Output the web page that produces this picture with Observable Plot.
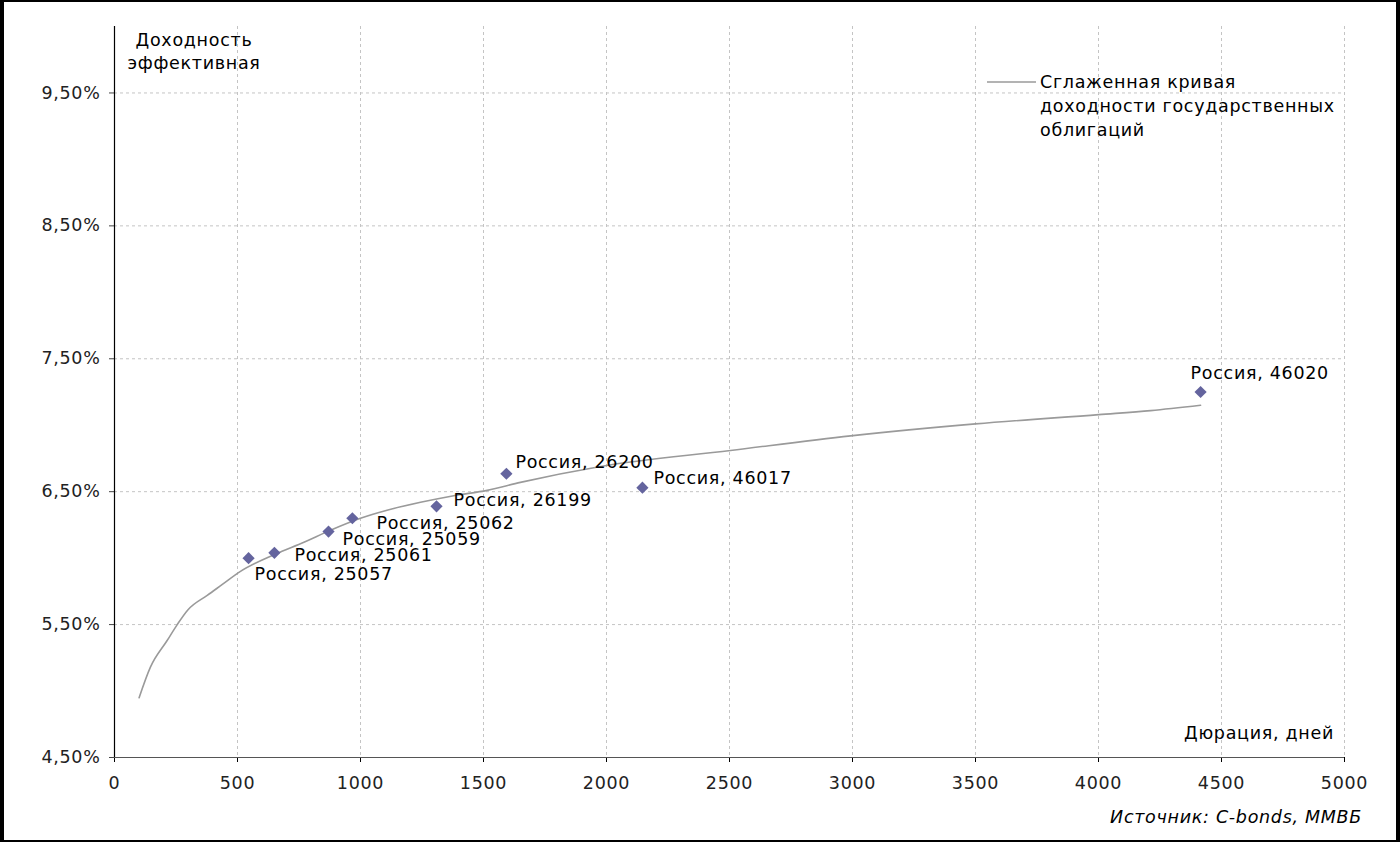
<!DOCTYPE html>
<html>
<head>
<meta charset="utf-8">
<script src="https://cdn.jsdelivr.net/npm/d3@7"></script>
<script src="https://cdn.jsdelivr.net/npm/@observablehq/plot@0.6"></script>
<style>
  html, body { margin: 0; padding: 0; background: #fff; }
  #wrap { position: relative; width: 1400px; height: 842px; overflow: hidden; }
  #frame { position: absolute; left: 0; top: 0; width: 1400px; height: 842px; box-sizing: border-box;
           border-left: 4px solid #000; border-right: 4px solid #000; border-top: 2px solid #000; border-bottom: 2px solid #000;
           pointer-events: none; }
  #chart svg text { letter-spacing: 0.7px; }
</style>
</head>
<body>
<div id="wrap"><div id="chart"></div><div id="frame"></div></div>
<script>
// ---- Data ----
const bondNames = ["Россия, 25057", "Россия, 25061", "Россия, 25059", "Россия, 25062",
                   "Россия, 26199", "Россия, 26200", "Россия, 46017", "Россия, 46020"];
const bondDuration = [545, 650, 870, 967, 1309, 1593, 2146, 4415];       // days
const bondYield    = [6.00, 6.04, 6.20, 6.30, 6.39, 6.635, 6.53, 7.25];  // %

const curveDuration = [100, 146, 214, 255, 298, 377, 437, 512, 654, 770, 878, 1000, 1108, 1244,
                       1379, 1515, 1650, 1976, 2504, 2992, 3500, 4001, 4212, 4415];
const curveYield    = [4.95, 5.18, 5.38, 5.50, 5.61, 5.72, 5.80, 5.90, 6.03, 6.12, 6.21, 6.30, 6.36, 6.42,
                       6.47, 6.51, 6.57, 6.69, 6.81, 6.92, 7.01, 7.08, 7.11, 7.15];

const xTicks = [0, 500, 1000, 1500, 2000, 2500, 3000, 3500, 4000, 4500, 5000];
const yTicks = [4.5, 5.5, 6.5, 7.5, 8.5, 9.5];

const yAxisTitle = ["Доходность", "эффективная"];
const xAxisTitle = "Дюрация, дней";
const legendLabel = ["Сглаженная кривая", "доходности государственных", "облигаций"];
const sourceText = "Источник: C-bonds, ММВБ";

// label nudges (layout only), px
const labelNudge = [[6, 16], [20, 3], [14, 8], [24, 5], [17, -6], [9, -11], [11, -9], [-10, -19]];

// ---- Build tables ----
const bonds = bondNames.map((n, i) => ({name: n, x: bondDuration[i], y: bondYield[i]}));
const curve = curveDuration.map((d, i) => ({x: d, y: curveYield[i]}));

const FONT = "DejaVu Sans, Verdana, sans-serif";
const FS = 17.5;
const fmtY = v => v.toFixed(2).replace(".", ",") + "%";
const fmtX = v => String(v);

const labelMarks = bonds.map((b, i) => Plot.text([b], {
  x: "x", y: "y", text: "name", textAnchor: "start",
  dx: labelNudge[i][0], dy: labelNudge[i][1], fill: "#000", fontSize: FS
}));

const chart = Plot.plot({
  width: 1400, height: 842,
  marginLeft: 114, marginRight: 56, marginTop: 26, marginBottom: 85,
  style: {fontFamily: FONT, fontSize: FS + "px", color: "#000", background: "transparent"},
  x: {domain: [0, 5000]},
  y: {domain: [4.5, 10]},
  marks: [
    Plot.gridX(xTicks.slice(1), {stroke: "#c4c4c4", strokeOpacity: 1, strokeDasharray: "3,3"}),
    Plot.gridY(yTicks.slice(1), {stroke: "#c4c4c4", strokeOpacity: 1, strokeDasharray: "3,3"}),
    Plot.axisX(xTicks, {tickSize: 5, tickPadding: 14, label: null, tickFormat: fmtX, stroke: "#000", fill: "#222", fontSize: FS}),
    Plot.axisY(yTicks, {tickSize: 5, tickPadding: 9, label: null, tickFormat: fmtY, stroke: "#444", fill: "#222", fontSize: FS}),
    Plot.ruleY([4.5], {stroke: "#555", strokeWidth: 1.2}),
    Plot.ruleX([0], {stroke: "#000", strokeWidth: 1.2}),
    Plot.line(curve, {x: "x", y: "y", stroke: "#9a9a9a", strokeWidth: 1.6, curve: "monotone-x"}),
    Plot.dot(bonds, {x: "x", y: "y", symbol: "diamond2", r: 5.5, fill: "#64649e", stroke: "none"}),
    ...labelMarks
  ]
});
document.getElementById("chart").appendChild(chart);

// ---- Annotations (axis titles, legend, source) ----
const svg = d3.select(chart);
const g = svg.append("g").attr("font-family", FONT).attr("font-size", FS).attr("fill", "#000");
g.selectAll("text.yt").data(yAxisTitle).join("text")
  .attr("x", 194).attr("y", (d, i) => 40 + i * 23).attr("dy", "0.35em")
  .attr("text-anchor", "middle").text(d => d);
g.append("text").attr("x", 1334).attr("y", 733).attr("dy", "0.35em")
  .attr("text-anchor", "end").text(xAxisTitle);
g.append("text").attr("x", 1362).attr("y", 817).attr("dy", "0.35em")
  .attr("text-anchor", "end").attr("font-style", "italic").text(sourceText);
// legend
g.append("line").attr("x1", 987).attr("x2", 1036).attr("y1", 82).attr("y2", 82)
  .attr("stroke", "#9a9a9a").attr("stroke-width", 1.6);
g.selectAll("text.lg").data(legendLabel).join("text")
  .attr("x", 1040).attr("y", (d, i) => 82 + i * 24).attr("dy", "0.35em")
  .attr("text-anchor", "start").text(d => d);
</script>
</body>
</html>
